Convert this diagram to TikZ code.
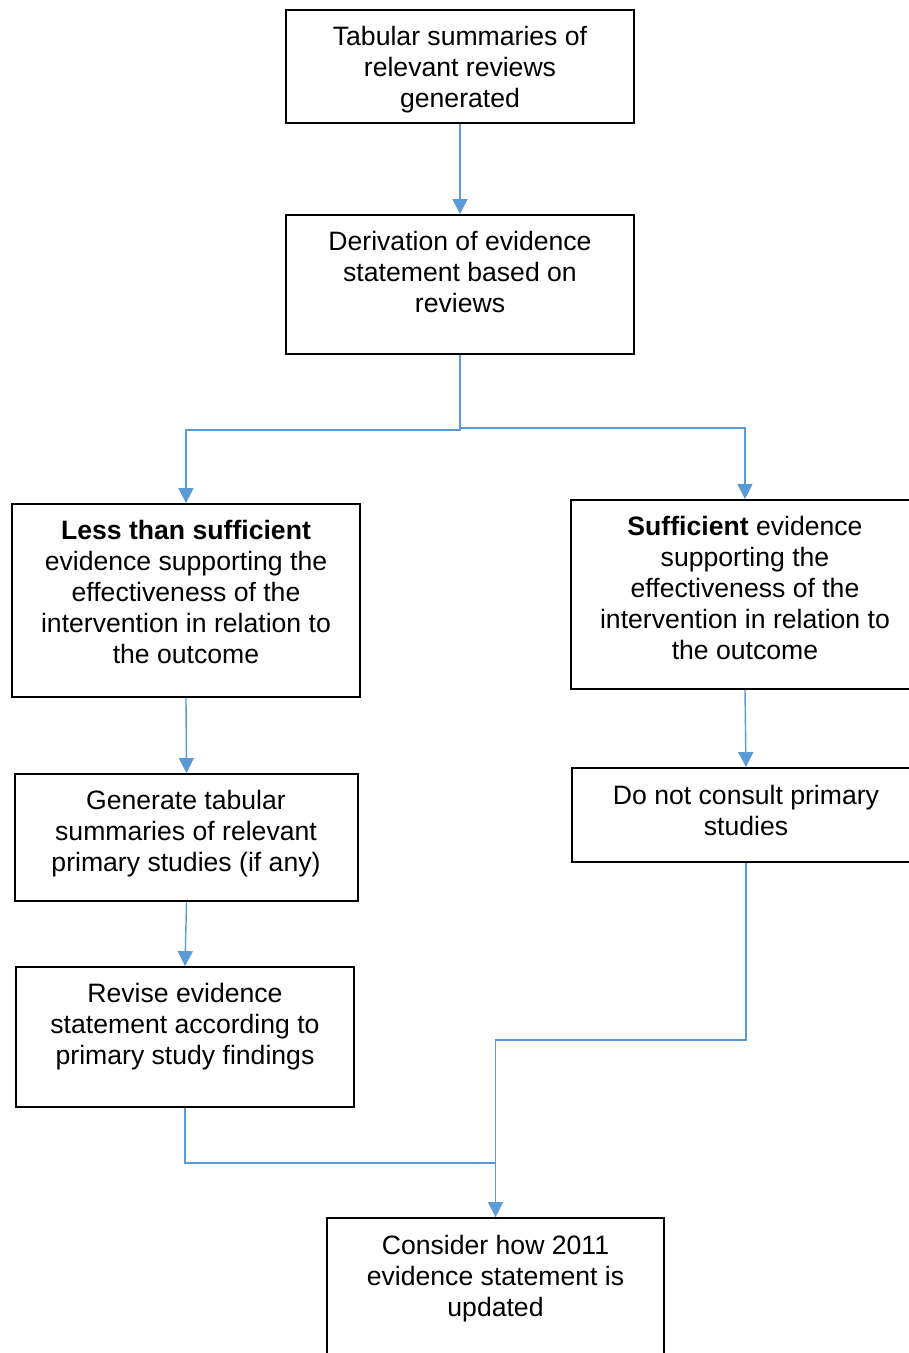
\documentclass[tikz,border=0pt]{standalone}
\usepackage{fontspec}
\setmainfont{Liberation Sans}
\usetikzlibrary{arrows.meta}
\definecolor{conn}{HTML}{5B9BD5}
\begin{document}
\begin{tikzpicture}[x=1pt,y=-1pt,
  boxn/.style={draw=black,line width=1.8pt,inner sep=0pt,minimum width=#1},
  txt/.style={align=center,inner sep=0pt,font=\fontsize{26.6}{31}\selectfont},
  arr/.style={draw=conn,line width=1.4pt,-{Triangle[width=15pt,length=15pt]}},
  ln/.style={draw=conn,line width=1.4pt}]
\useasboundingbox (0,0) rectangle (909,1353);
\clip (0,0) rectangle (909,1353);
% boxes
\node[boxn=348pt,minimum height=113pt] (b1) at (460,66.5) {};
\node[boxn=348pt,minimum height=139pt] (b2) at (460,284.5) {};
\node[boxn=348pt,minimum height=193pt] (l1) at (186,600.5) {};
\node[boxn=348pt,minimum height=189pt] (r1) at (745,594.5) {};
\node[boxn=343pt,minimum height=127pt] (l2) at (186.5,837.5) {};
\node[boxn=348pt,minimum height=94pt] (r2) at (746,815) {};
\node[boxn=338pt,minimum height=140pt] (l3) at (185,1037) {};
\node[boxn=337pt,minimum height=180pt] (bot) at (495.5,1308) {};
% texts
\node[txt] (t1) at (460,70) {Tabular summaries of\\relevant reviews\\generated};
\node[txt] (t2) at (460,272) {Derivation of evidence\\statement based on\\reviews};
\node[txt] (tl1) at (186,591.5) {\textbf{Less than sufficient}\\evidence supporting the\\effectiveness of the\\intervention in relation to\\the outcome};
\node[txt] (tr1) at (745,587.5) {\textbf{Sufficient} evidence\\supporting the\\effectiveness of the\\intervention in relation to\\the outcome};
\node[txt] (tl2) at (186,834) {Generate tabular\\summaries of relevant\\primary studies (if any)};
\node[txt] (tr2) at (746,810) {Do not consult primary\\studies};
\node[txt] (tl3) at (185,1027) {Revise evidence\\statement according to\\primary study findings};
\node[txt] (tb) at (495.5,1278.5) {Consider how 2011\\evidence statement is\\updated};
% connectors
\draw[arr] (b1.south) -- (b2.north);
\draw[arr] (b2.south) -- ++(0,75) -| (l1.north);
\draw[arr] (b2.south) -- ++(0,73) -| (r1.north);
\draw[arr] (l1.south) -- (l2.north);
\draw[arr] (r1.south) -- (r2.north);
\draw[arr] (l2.south) -- (l3.north);
\coordinate (jr) at (746,1040);
\coordinate (jl) at (495.5,1163);
\draw[arr] (r2.south) -- (jr) -| (bot.north);
\draw[ln] (l3.south) |- (jl);
\end{tikzpicture}
\end{document}
